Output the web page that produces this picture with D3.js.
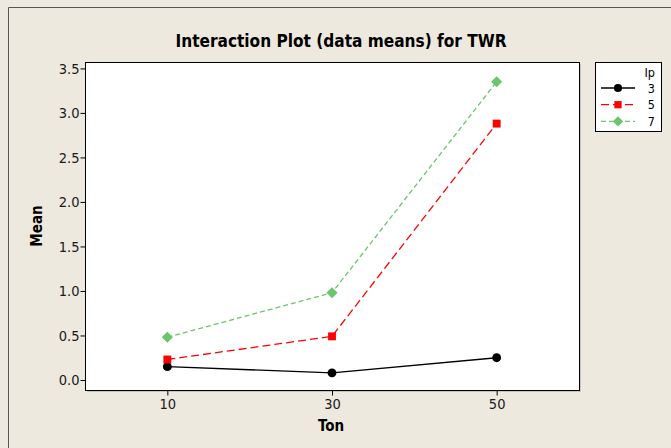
<!DOCTYPE html>
<html>
<head>
<meta charset="utf-8">
<script src="https://cdn.jsdelivr.net/npm/d3@7"></script>
<style>
  body { margin: 0; background: #fff; }
  svg { display: block; font-family: "DejaVu Sans Condensed", "DejaVu Sans", sans-serif; }
</style>
</head>
<body>
<div id="chart"></div>
<script>
// data
const tons = [10, 30, 50]
const ipLevels = ["3", "5", "7"]
const mean3 = [0.15, 0.08, 0.25]
const mean5 = [0.23, 0.49, 2.88]
const mean7 = [0.48, 0.98, 3.35]
const yTicks = [0.0, 0.5, 1.0, 1.5, 2.0, 2.5, 3.0, 3.5]

const diamond = {draw(ctx, size) { const r = Math.sqrt(size / 2); ctx.moveTo(0, -r); ctx.lineTo(r, 0); ctx.lineTo(0, r); ctx.lineTo(-r, 0); ctx.closePath() }}

const series = [
  {name: ipLevels[0], values: mean3, color: "#000000", dash: null, shape: d3.symbolCircle, size: 62},
  {name: ipLevels[1], values: mean5, color: "#ff0000", dash: "8,4", shape: d3.symbolSquare, size: 62},
  {name: ipLevels[2], values: mean7, color: "#6ac66a", dash: "5,3", shape: diamond, size: 62}
]

const W = 671, H = 448
const plot = {left: 85, top: 62, right: 579, bottom: 390}

const svg = d3.select("#chart").append("svg")
  .attr("width", W).attr("height", H)

// window background + border
svg.append("rect").attr("width", W).attr("height", H).attr("fill", "#ede9df")
svg.append("path")
  .attr("d", `M8.5,${H} V7.5 H${W}`)
  .attr("fill", "none").attr("stroke", "#555").attr("stroke-width", 1)

const x = d3.scaleLinear().domain([0, 60]).range([plot.left, plot.right])
const y = d3.scaleLinear().domain([-0.1125, 3.572]).range([plot.bottom, plot.top])

// plot area
svg.append("rect")
  .attr("x", plot.left + 2).attr("y", plot.top + 2)
  .attr("width", plot.right - plot.left).attr("height", plot.bottom - plot.top)
  .attr("fill", "#c8c5bd")
svg.append("rect")
  .attr("x", plot.left + 0.5).attr("y", plot.top + 0.5)
  .attr("width", plot.right - plot.left).attr("height", plot.bottom - plot.top)
  .attr("fill", "#fff").attr("stroke", "#000")

// axes
const yAxis = svg.append("g")
  .attr("transform", `translate(${plot.left + 0.5},0)`)
  .call(d3.axisLeft(y).tickValues(yTicks).tickFormat(d3.format(".1f")).tickSize(5).tickSizeOuter(0))
const xAxis = svg.append("g")
  .attr("transform", `translate(0,${plot.bottom + 0.5})`)
  .call(d3.axisBottom(x).tickValues(tons).tickSize(5).tickSizeOuter(0))
;[xAxis, yAxis].forEach(g => {
  g.select(".domain").remove()
  g.selectAll("line").attr("stroke", "#000")
  g.selectAll("text").attr("fill", "#1a1a1a").style("font-size", "14.5px")
    .style("font-family", "'DejaVu Sans Condensed', sans-serif")
})
yAxis.selectAll("text").attr("x", -6)
xAxis.selectAll("text").attr("y", 8)

// titles
svg.append("text")
  .attr("x", 341).attr("y", 46.5)
  .attr("text-anchor", "middle")
  .attr("font-weight", "bold").attr("font-size", 17)
  .attr("textLength", 331).attr("lengthAdjust", "spacingAndGlyphs")
  .text("Interaction Plot (data means) for TWR")
svg.append("text")
  .attr("x", 331).attr("y", 431)
  .attr("text-anchor", "middle")
  .attr("font-weight", "bold").attr("font-size", 15)
  .text("Ton")
svg.append("text")
  .attr("transform", `translate(42,${(plot.top + plot.bottom) / 2}) rotate(-90)`)
  .attr("text-anchor", "middle")
  .attr("font-weight", "bold").attr("font-size", 15)
  .text("Mean")

// lines and markers
const line = d3.line().x((d, i) => x(tons[i])).y(d => y(d))
series.forEach(s => {
  svg.append("path")
    .datum(s.values)
    .attr("d", line)
    .attr("fill", "none")
    .attr("stroke", s.color)
    .attr("stroke-width", 1.3)
    .attr("stroke-dasharray", s.dash)
  svg.selectAll(null)
    .data(s.values)
    .join("path")
    .attr("transform", (d, i) => `translate(${x(tons[i])},${y(d)})`)
    .attr("d", d3.symbol().type(s.shape).size(s.size))
    .attr("fill", s.color)
})

// legend
const lg = svg.append("g")
lg.append("rect")
  .attr("x", 595.5).attr("y", 62.5).attr("width", 66).attr("height", 69)
  .attr("fill", "#fff").attr("stroke", "#000")
lg.append("text")
  .attr("x", 655).attr("y", 77)
  .attr("text-anchor", "end").attr("font-size", 12.5)
  .text("Ip")
series.forEach((s, i) => {
  const ly = 88 + i * 16.7
  lg.append("line")
    .attr("x1", 601).attr("x2", 635).attr("y1", ly).attr("y2", ly)
    .attr("stroke", s.color).attr("stroke-width", 1.3)
    .attr("stroke-dasharray", s.dash)
  lg.append("path")
    .attr("transform", `translate(618,${ly})`)
    .attr("d", d3.symbol().type(s.shape).size(s.size * 0.85))
    .attr("fill", s.color)
  lg.append("text")
    .attr("x", 655).attr("y", ly + 4.5)
    .attr("text-anchor", "end").attr("font-size", 12.5)
    .text(s.name)
})
</script>
</body>
</html>
